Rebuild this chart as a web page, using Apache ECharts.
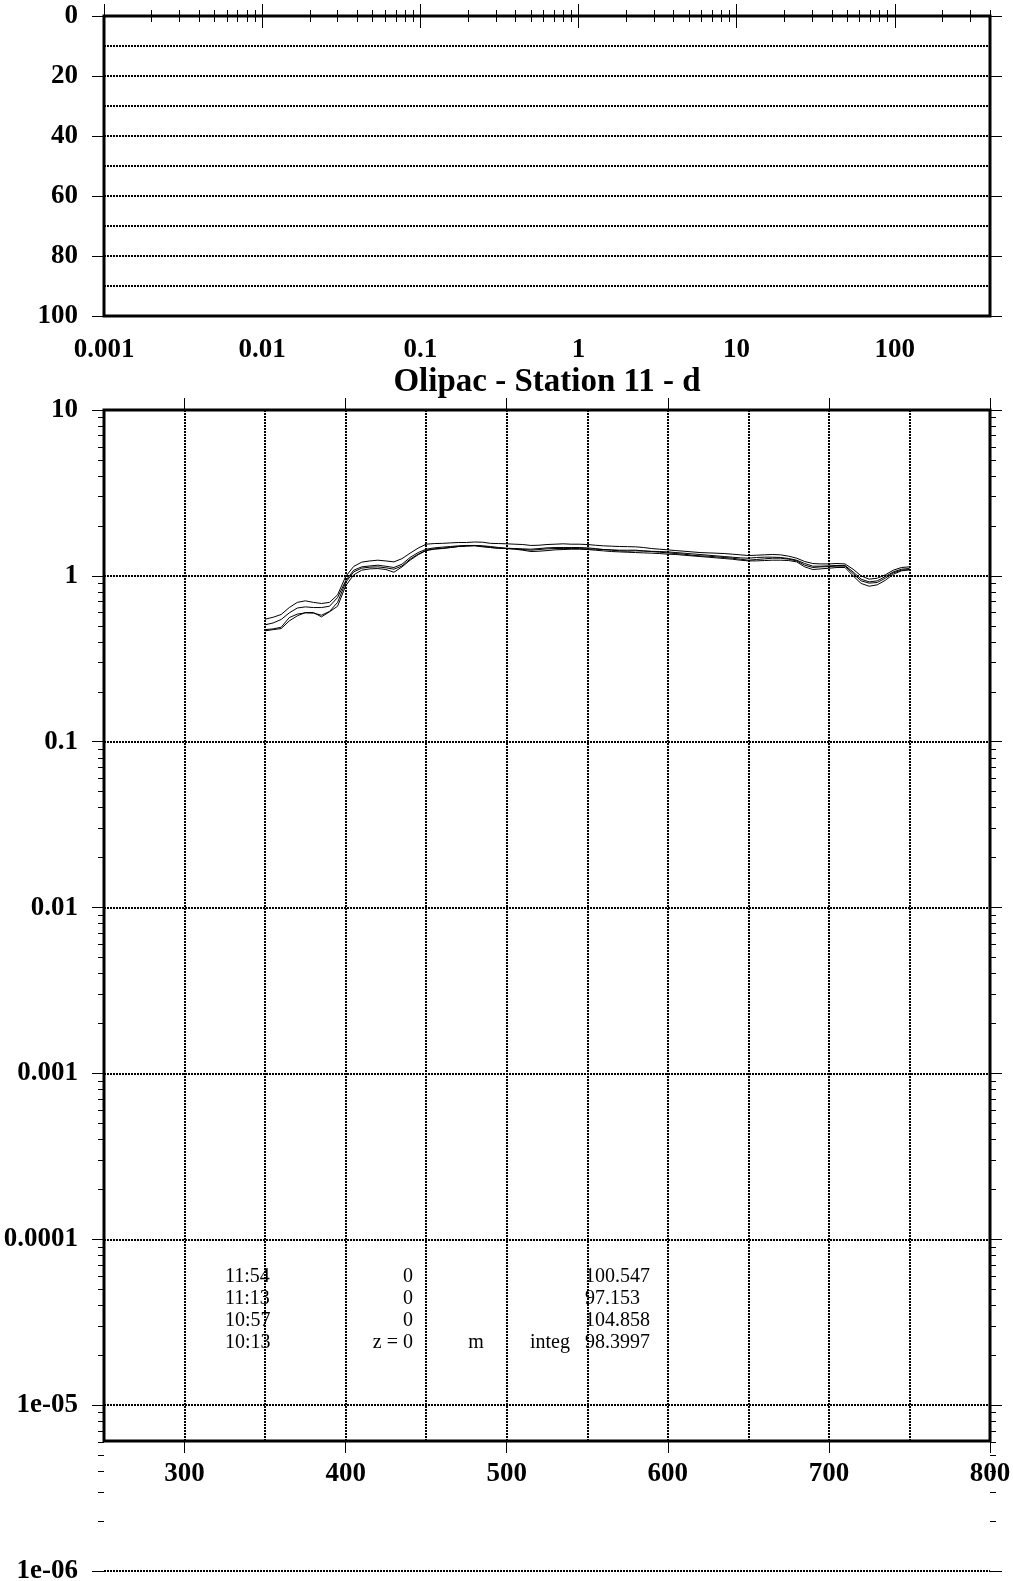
<!DOCTYPE html>
<html>
<head>
<meta charset="utf-8">
<script src="https://cdn.jsdelivr.net/npm/echarts@6/dist/echarts.min.js"></script>
<style>
html,body{margin:0;padding:0;background:#fff;}
#chart{width:1013px;height:1581px;}
</style>
</head>
<body>
<div id="chart"></div>
<script>
// ---------------- data ----------------
const titleText = 'Olipac - Station 11 - d';

// top panel (depth vs log value)
const topXDecades = [0.001, 0.01, 0.1, 1, 10, 100];
const topXLabels = ['0.001', '0.01', '0.1', '1', '10', '100'];
const depthTicks = [0, 20, 40, 60, 80, 100];

// bottom panel (wavelength vs log value)
const wavelengthTicks = [300, 400, 500, 600, 700, 800];
const valueDecades = [1e-6, 1e-5, 1e-4, 1e-3, 0.01, 0.1, 1, 10];
const valueLabels = ['1e-06', '1e-05', '0.0001', '0.001', '0.01', '0.1', '1', '10'];

const wavelengths = [
  350,355,360,365,370,375,380,385,390,395,400,
  405,410,415,420,425,430,435,440,445,450,
  455,460,465,470,475,480,485,490,495,500,
  505,510,515,520,525,530,535,540,545,550,
  555,560,565,570,575,580,585,590,595,600,
  605,610,615,620,625,630,635,640,645,650,
  655,660,665,670,675,680,685,690,695,700,
  705,710,715,720,725,730,735,740,745,750
];

const cast1154 = [
  0.548,0.563,0.585,0.644,0.692,0.707,0.692,0.681,0.692,0.768,0.99,
  1.14,1.21,1.23,1.243,1.23,1.214,1.27,1.37,1.47,1.552,
  1.566,1.57,1.58,1.589,1.589,1.60,1.595,1.57,1.566,1.56,
  1.552,1.545,1.525,1.53,1.545,1.552,1.56,1.552,1.552,1.545,
  1.53,1.517,1.51,1.503,1.50,1.496,1.482,1.461,1.448,1.435,
  1.42,1.408,1.395,1.382,1.376,1.37,1.363,1.351,1.339,1.326,
  1.332,1.339,1.345,1.339,1.314,1.278,1.22,1.187,1.18,1.18,
  1.187,1.18,1.097,1.0,0.955,0.968,1.014,1.082,1.123,1.133
];
const cast1113 = [
  0.507,0.52,0.546,0.598,0.64,0.65,0.644,0.644,0.656,0.74,0.933,
  1.082,1.133,1.147,1.16,1.142,1.123,1.176,1.29,1.382,1.448,
  1.475,1.49,1.503,1.517,1.525,1.525,1.517,1.503,1.482,1.468,
  1.461,1.455,1.448,1.461,1.475,1.482,1.482,1.482,1.482,1.475,
  1.461,1.441,1.428,1.415,1.408,1.415,1.41,1.406,1.402,1.395,
  1.382,1.37,1.357,1.345,1.332,1.32,1.308,1.296,1.284,1.278,
  1.29,1.296,1.296,1.29,1.272,1.243,1.187,1.144,1.144,1.149,
  1.155,1.155,1.057,0.955,0.92,0.933,0.99,1.057,1.097,1.107
];
const cast1057 = [
  0.474,0.479,0.49,0.56,0.588,0.598,0.596,0.579,0.61,0.692,0.912,
  1.057,1.113,1.128,1.133,1.118,1.097,1.147,1.26,1.351,1.428,
  1.455,1.468,1.482,1.503,1.517,1.525,1.51,1.482,1.468,1.461,
  1.455,1.441,1.428,1.441,1.455,1.461,1.461,1.461,1.461,1.455,
  1.448,1.441,1.435,1.428,1.428,1.428,1.415,1.402,1.388,1.376,
  1.363,1.351,1.332,1.32,1.314,1.302,1.29,1.278,1.26,1.243,
  1.255,1.266,1.278,1.278,1.26,1.231,1.16,1.123,1.133,1.138,
  1.144,1.144,1.033,0.933,0.904,0.912,0.968,1.043,1.082,1.092
];
const cast1013 = [
  0.466,0.474,0.481,0.535,0.574,0.601,0.601,0.566,0.607,0.656,0.87,
  1.014,1.082,1.102,1.107,1.092,1.052,1.133,1.243,1.34,1.42,
  1.448,1.461,1.482,1.503,1.51,1.517,1.496,1.482,1.468,1.461,
  1.448,1.428,1.402,1.408,1.42,1.435,1.441,1.448,1.448,1.441,
  1.428,1.415,1.402,1.395,1.388,1.382,1.376,1.37,1.363,1.351,
  1.345,1.332,1.32,1.308,1.296,1.284,1.272,1.26,1.243,1.231,
  1.231,1.237,1.243,1.243,1.237,1.214,1.133,1.092,1.102,1.112,
  1.123,1.123,1.0,0.9,0.866,0.883,0.94,1.023,1.072,1.087
];

const castNames = ['11:54', '11:13', '10:57', '10:13'];
const castSeries = [cast1154, cast1113, cast1057, cast1013];

// annotation table
const infoRows = [
  ['11:54', '0', '', '', '100.547'],
  ['11:13', '0', '', '', '97.153'],
  ['10:57', '0', '', '', '104.858'],
  ['10:13', 'z = 0', 'm', 'integ', '98.3997']
];

// ---------------- helpers ----------------
function minorTicks(decades, maxVal) {
  const out = [];
  decades.forEach(d => {
    for (let m = 2; m <= 9; m++) {
      const v = parseFloat((m * d).toPrecision(6));
      if (v <= maxVal * 1.0000001) out.push(v);
    }
  });
  return out;
}
function logLabel(values, labels) {
  return function (v) {
    for (let i = 0; i < values.length; i++) {
      if (Math.abs(Math.log10(v) - Math.log10(values[i])) < 1e-6) return labels[i];
    }
    return '';
  };
}

const topXMinor = minorTicks(topXDecades, 400);
const valueMinor = minorTicks(valueDecades.slice(0, 7), 10);

const FONT = '"Liberation Serif", "Times New Roman", serif';
const labelStyle = { fontFamily: FONT, fontWeight: 'bold', fontSize: 27, color: '#000' };
const dotted = { color: '#000', width: 2, type: [2, 1] };
const tickStyle = { color: '#000', width: 1 };
const noLine = { show: false };

function tickAxis(base, values, len, withLabels, labelOpt) {
  return Object.assign({
    axisLine: noLine,
    splitLine: { show: false },
    axisTick: { show: true, inside: false, length: len, lineStyle: tickStyle, customValues: values },
    axisLabel: withLabels ? Object.assign({ show: true, customValues: values }, labelStyle, labelOpt) : { show: false }
  }, base);
}

// ---------------- option ----------------
const gridCommon = { left: 104, width: 886, containLabel: false, outerBoundsMode: 'none', backgroundColor: 'transparent' };

const option = {
  animation: false,
  backgroundColor: '#fff',
  title: {
    text: titleText,
    left: 547, top: 382, padding: 0,
    textAlign: 'center', textVerticalAlign: 'middle',
    textStyle: { fontFamily: FONT, fontWeight: 'bold', fontSize: 33, color: '#000' }
  },
  grid: [
    Object.assign({ top: 16, height: 300, show: true, borderColor: '#000', borderWidth: 3 }, gridCommon),
    Object.assign({ top: 410, height: 1161, show: false }, gridCommon),
    Object.assign({ top: 410, height: 1031, show: true, borderColor: '#000', borderWidth: 3 }, gridCommon)
  ],
  xAxis: [
    // grid 0 : log axis
    tickAxis({ gridIndex: 0, type: 'log', logBase: 10, min: 0.001, max: 400, position: 'bottom' },
      topXDecades, 12, true, { margin: 21, formatter: logLabel(topXDecades, topXLabels) }),
    tickAxis({ gridIndex: 0, type: 'log', logBase: 10, min: 0.001, max: 400, position: 'bottom' }, topXMinor, 6, false),
    tickAxis({ gridIndex: 0, type: 'log', logBase: 10, min: 0.001, max: 400, position: 'top' }, topXDecades, 12, false),
    tickAxis({ gridIndex: 0, type: 'log', logBase: 10, min: 0.001, max: 400, position: 'top' }, topXMinor, 6, false),
    // grid 1 : data x axis (hidden)
    { gridIndex: 1, type: 'value', min: 250, max: 800, show: false },
    // grid 2 : frame axes
    { gridIndex: 2, type: 'value', min: 250, max: 800, interval: 50, position: 'bottom',
      axisLine: noLine, axisTick: { show: false }, axisLabel: { show: false },
      splitLine: { show: true, lineStyle: dotted } },
    tickAxis({ gridIndex: 2, type: 'value', min: 250, max: 800, position: 'bottom' },
      wavelengthTicks, 12, true, { margin: 20 }),
    tickAxis({ gridIndex: 2, type: 'value', min: 250, max: 800, position: 'top' }, wavelengthTicks, 12, false)
  ],
  yAxis: [
    // grid 0 : depth
    { gridIndex: 0, type: 'value', inverse: true, min: 0, max: 100, interval: 10, position: 'left',
      axisLine: noLine, axisTick: { show: false }, axisLabel: { show: false },
      splitLine: { show: true, lineStyle: dotted } },
    tickAxis({ gridIndex: 0, type: 'value', inverse: true, min: 0, max: 100, position: 'left' },
      depthTicks, 12, true, { margin: 26 }),
    tickAxis({ gridIndex: 0, type: 'value', inverse: true, min: 0, max: 100, position: 'right' }, depthTicks, 12, false),
    // grid 1 : log values
    Object.assign(tickAxis({ gridIndex: 1, type: 'log', logBase: 10, min: 1e-6, max: 10, position: 'left' },
      valueDecades, 12, true, { margin: 26, formatter: logLabel(valueDecades, valueLabels) }),
      { splitLine: { show: true, lineStyle: dotted } }),
    tickAxis({ gridIndex: 1, type: 'log', logBase: 10, min: 1e-6, max: 10, position: 'left' }, valueMinor, 6, false),
    tickAxis({ gridIndex: 1, type: 'log', logBase: 10, min: 1e-6, max: 10, position: 'right' }, valueDecades, 12, false),
    tickAxis({ gridIndex: 1, type: 'log', logBase: 10, min: 1e-6, max: 10, position: 'right' }, valueMinor, 6, false),
    // grid 2 : dummy
    { gridIndex: 2, type: 'value', min: 0, max: 1, show: false }
  ],
  series: castSeries.map((vals, k) => ({
    name: castNames[k],
    type: 'line',
    xAxisIndex: 4,
    yAxisIndex: 3,
    showSymbol: false,
    symbol: 'none',
    smooth: false,
    z: 5,
    lineStyle: { color: '#000', width: 1 },
    emphasis: { disabled: true },
    data: wavelengths.map((w, i) => [w, vals[i]])
  })),
  graphic: []
};

// annotation table as text elements
const colX = [225, 413, 476, 570, 585];
const colAlign = ['left', 'right', 'center', 'right', 'left'];
const rowY = [1276.5, 1298.7, 1320.9, 1343.1];
infoRows.forEach((row, r) => {
  row.forEach((txt, c) => {
    if (!txt) return;
    option.graphic.push({
      type: 'text', x: colX[c], y: rowY[r], silent: true, z: 10,
      style: { text: txt, fill: '#000', font: '20px "Liberation Serif", serif', align: colAlign[c], verticalAlign: 'middle' }
    });
  });
});

const chart = echarts.init(document.getElementById('chart'), null, { renderer: 'canvas' });
chart.setOption(option);
</script>
</body>
</html>
